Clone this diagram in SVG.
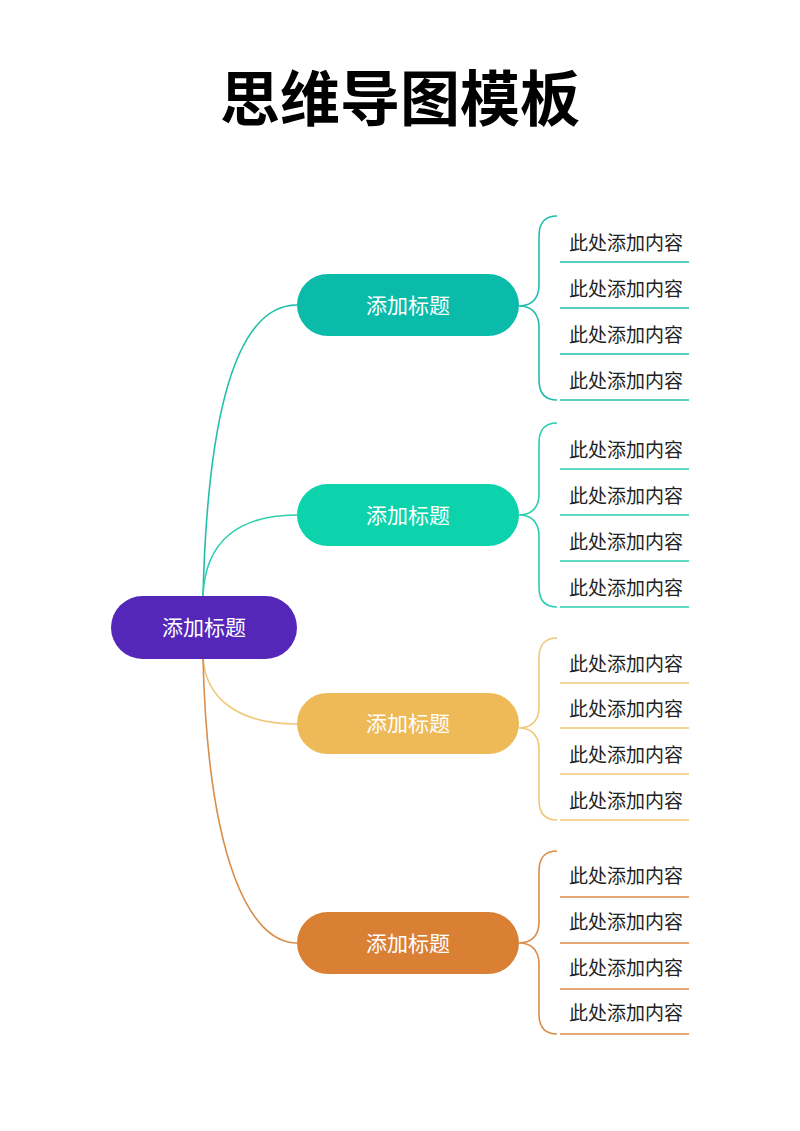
<svg xmlns="http://www.w3.org/2000/svg" width="800" height="1131" viewBox="0 0 800 1131">
<style>
.title{font-family:"Noto Sans CJK SC","Noto Sans",sans-serif;font-size:60px;font-weight:700;fill:#000;text-anchor:middle}
.nt{font-family:"Noto Sans CJK SC","Noto Sans",sans-serif;font-size:21px;fill:#fff;text-anchor:middle}
.it{font-family:"Noto Sans CJK SC","Noto Sans",sans-serif;font-size:19px;fill:#222;text-anchor:start}
.c{fill:none;stroke-width:1.6}
.g1{stroke:#22BEAC}.g2{stroke:#2ACFB0}.g3{stroke:#F0C87A}.g4{stroke:#DB8D4A}
</style>
<rect width="800" height="1131" fill="#fff"/>
<text class="title" x="400" y="121">思维导图模板</text>
<g id="connectors">
<path class="c g1" d="M203,596 C208,400 240,305 297,305"/>
<path class="c g2" d="M203,596 C205,540 240,515 297,515"/>
<path class="c g3" d="M203,658 C206,700 240,724 297,724"/>
<path class="c g4" d="M203,658 C208,860 250,943 297,943"/>
<path class="c g1" d="M557,216 Q539,216 539,236 L539,285 C539,300 530,306 519,306 C530,306 539,312 539,327 L539,380 Q539,400 557,400"/>
<path class="c g2" d="M557,423 Q539,423 539,443 L539,494 C539,509 530,515 519,515 C530,515 539,521 539,536 L539,587 Q539,607 557,607"/>
<path class="c g3" d="M557,638 Q539,638 539,658 L539,707 C539,722 530,728 519,728 C530,728 539,734 539,749 L539,800 Q539,820 557,820"/>
<path class="c g4" d="M557,851 Q539,851 539,871 L539,922 C539,937 530,943 519,943 C530,943 539,949 539,964 L539,1014 Q539,1034 557,1034"/>
<g class="c g1"><line x1="560" y1="262" x2="689" y2="262"/><line x1="560" y1="308" x2="689" y2="308"/><line x1="560" y1="354" x2="689" y2="354"/><line x1="560" y1="400" x2="689" y2="400"/></g>
<g class="c g2"><line x1="560" y1="469" x2="689" y2="469"/><line x1="560" y1="515" x2="689" y2="515"/><line x1="560" y1="561" x2="689" y2="561"/><line x1="560" y1="607" x2="689" y2="607"/></g>
<g class="c g3"><line x1="560" y1="683" x2="689" y2="683"/><line x1="560" y1="728" x2="689" y2="728"/><line x1="560" y1="774" x2="689" y2="774"/><line x1="560" y1="820" x2="689" y2="820"/></g>
<g class="c g4"><line x1="560" y1="897" x2="689" y2="897"/><line x1="560" y1="943" x2="689" y2="943"/><line x1="560" y1="989" x2="689" y2="989"/><line x1="560" y1="1034" x2="689" y2="1034"/></g>
</g>
<g id="root">
<rect x="111" y="596" width="186" height="63" rx="31.5" fill="#5427B8"/>
<text class="nt" x="204" y="635">添加标题</text>
</g>
<g id="branch1">
<rect x="297" y="274" width="222" height="62" rx="31" fill="#0BBBA9"/>
<text class="nt" x="408" y="313">添加标题</text>
</g>
<g id="branch2">
<rect x="297" y="484" width="222" height="62" rx="31" fill="#0DD3AC"/>
<text class="nt" x="408" y="523">添加标题</text>
</g>
<g id="branch3">
<rect x="297" y="693" width="222" height="61" rx="30.5" fill="#EEBA57"/>
<text class="nt" x="408" y="731">添加标题</text>
</g>
<g id="branch4">
<rect x="297" y="912" width="222" height="62" rx="31" fill="#D98035"/>
<text class="nt" x="408" y="951">添加标题</text>
</g>
<g id="items1">
<text class="it" x="569" y="250">此处添加内容</text>
<text class="it" x="569" y="296">此处添加内容</text>
<text class="it" x="569" y="342">此处添加内容</text>
<text class="it" x="569" y="388">此处添加内容</text>
</g>
<g id="items2">
<text class="it" x="569" y="457">此处添加内容</text>
<text class="it" x="569" y="503">此处添加内容</text>
<text class="it" x="569" y="549">此处添加内容</text>
<text class="it" x="569" y="595">此处添加内容</text>
</g>
<g id="items3">
<text class="it" x="569" y="671">此处添加内容</text>
<text class="it" x="569" y="716">此处添加内容</text>
<text class="it" x="569" y="762">此处添加内容</text>
<text class="it" x="569" y="808">此处添加内容</text>
</g>
<g id="items4">
<text class="it" x="569" y="883">此处添加内容</text>
<text class="it" x="569" y="929">此处添加内容</text>
<text class="it" x="569" y="975">此处添加内容</text>
<text class="it" x="569" y="1020">此处添加内容</text>
</g>
</svg>
